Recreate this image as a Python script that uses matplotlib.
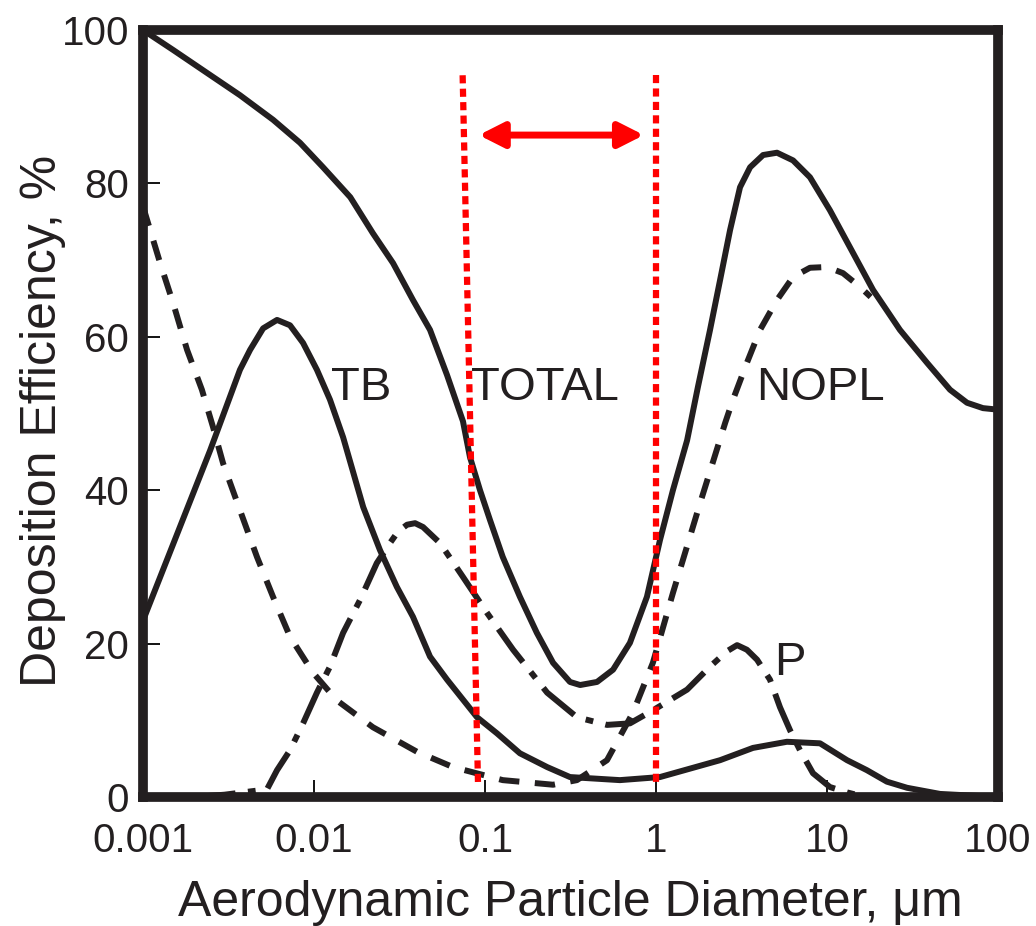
import matplotlib
matplotlib.use("Agg")
import matplotlib.pyplot as plt
from matplotlib.ticker import NullLocator

plt.rcParams['font.family'] = ['Liberation Sans', 'DejaVu Sans']

# curvas (diametro en um, eficiencia en %)
total_x = [0.001, 0.0015, 0.00237, 0.00369, 0.00576, 0.00828, 0.0113, 0.0163, 0.0221, 0.029,
           0.0379, 0.0477, 0.060, 0.0743, 0.0817, 0.0935, 0.107, 0.127, 0.160, 0.201,
           0.250, 0.314, 0.360, 0.452, 0.561, 0.704, 0.885, 1.055, 1.256, 1.52,
           1.76, 2.07, 2.37, 2.71, 3.10, 3.55, 4.23, 5.10, 6.33, 7.95,
           10.4, 13.6, 18.6, 26.7, 38.5, 52.4, 65.9, 81.7, 100]
total_y = [100, 97.4, 94.4, 91.5, 88.3, 85.3, 82.1, 78.2, 73.5, 69.6,
           64.8, 60.9, 55.0, 49.0, 44.3, 40.0, 36.1, 31.3, 26.1, 21.4,
           17.5, 15.0, 14.6, 15.0, 16.6, 20.1, 26.1, 33.5, 40.0, 46.5,
           53.5, 60.9, 67.4, 73.9, 79.5, 82.1, 83.7, 84.0, 83.0, 80.8,
           76.5, 71.7, 66.1, 60.9, 56.6, 53.1, 51.4, 50.7, 50.5]

tb_x = [0.001, 0.00247, 0.00369, 0.00423, 0.00504, 0.00608, 0.00724, 0.00863, 0.0104, 0.0124,
        0.0148, 0.0194, 0.0243, 0.0305, 0.0379, 0.0477, 0.060, 0.0898, 0.1175, 0.160,
        0.231, 0.314, 0.615, 1.055, 2.37, 3.69, 5.83, 9.1, 13.1, 17.1,
        22.4, 29.4, 45.8, 100]
tb_y = [23.0, 45.2, 55.7, 58.3, 61.1, 62.2, 61.5, 59.2, 55.7, 51.8,
        46.9, 37.8, 32.2, 27.4, 23.5, 18.3, 15.3, 10.4, 8.3, 5.7,
        3.9, 2.6, 2.2, 2.6, 4.8, 6.4, 7.2, 7.0, 4.8, 3.5,
        2.0, 1.2, 0.4, 0]

nopl_x = [0.001, 0.00126, 0.0015, 0.00181, 0.00221, 0.00257, 0.00294, 0.00369, 0.00464, 0.00576,
          0.00724, 0.00987, 0.0136, 0.0221, 0.040, 0.065, 0.127, 0.250, 0.345, 0.517,
          0.733, 0.959, 1.256, 1.81, 2.54, 2.82, 3.40, 4.06, 5.10, 6.33,
          7.95, 10.0, 12.4, 15.6, 18.0]
nopl_y = [77.0, 69.6, 64.4, 58.3, 53.1, 48.2, 43.5, 37.4, 31.3, 26.1,
          20.9, 16.2, 12.6, 9.1, 5.9, 3.9, 2.2, 1.6, 2.2, 4.8,
          11.0, 17.5, 26.6, 38.3, 48.8, 51.8, 56.6, 60.9, 64.8, 67.8,
          69.0, 69.1, 68.3, 66.5, 65.2]

p_x = [0.002, 0.003, 0.00531, 0.00608, 0.00724, 0.00863, 0.0104, 0.0124, 0.0148, 0.0186,
       0.0233, 0.0278, 0.031, 0.035, 0.039, 0.0434, 0.0546, 0.0743, 0.1028, 0.146,
       0.231, 0.345, 0.517, 0.704, 0.959, 1.52, 2.07, 2.6, 2.98, 3.4,
       3.90, 4.64, 5.31, 6.08, 6.95, 8.28, 10.4, 13.1, 16.7]
p_y = [0, 0.3, 1.0, 3.5, 6.1, 9.6, 13.6, 17.0, 21.4, 25.7,
       30.5, 33.1, 34.6, 35.5, 35.7, 35.2, 33.1, 28.7, 24.0, 19.2,
       13.6, 10.4, 9.4, 9.6, 11.3, 14.0, 17.0, 19.0, 19.8, 19.2,
       17.9, 15.3, 11.7, 8.7, 6.1, 3.1, 1.3, 0.6, 0]

# zona marcada en rojo
rojo_izq_x = [0.074, 0.091]
rojo_izq_y = [94.1, 1.8]
rojo_der_x = [1.0, 1.0]
rojo_der_y = [94.1, 1.8]
flecha_x = [0.092, 0.85]
flecha_y = 86.3

etiquetas = ['TB', 'TOTAL', 'NOPL', 'P']
etiquetas_x = [0.0188, 0.2245, 9.1, 6.08]
etiquetas_y = [51.8, 51.8, 51.8, 15.9]

xticks = [0.001, 0.01, 0.1, 1, 10, 100]
xticklabels = ['0.001', '0.01', '0.1', '1', '10', '100']
yticks = [0, 20, 40, 60, 80, 100]

negro = '#231f20'

fig = plt.figure(figsize=(10.36, 9.26), dpi=100)
ax = fig.add_axes([143 / 1036, (926 - 797) / 926, (998 - 143) / 1036, (797 - 30) / 926])

ax.plot(total_x, total_y, color=negro, lw=4.3, solid_joinstyle='round')
ax.plot(tb_x, tb_y, color=negro, lw=4.3, solid_joinstyle='round')
ax.plot(nopl_x, nopl_y, color=negro, lw=4.3, dashes=(3.4, 2.6))
ax.plot(p_x, p_y, color=negro, lw=4.3, dashes=(6.9, 2.1, 1.3, 2.1))

ax.plot(rojo_izq_x, rojo_izq_y, color='red', lw=4.5, dashes=(1.3, 0.85), zorder=4)
ax.plot(rojo_der_x, rojo_der_y, color='red', lw=4.5, dashes=(1.3, 0.85), zorder=4)
ax.annotate('', xy=(flecha_x[0], flecha_y), xytext=(flecha_x[1], flecha_y),
            arrowprops=dict(arrowstyle='<|-|>,head_length=0.75,head_width=0.38',
                            color='red', lw=5, shrinkA=0, shrinkB=0, mutation_scale=20))

for txt, tx, ty in zip(etiquetas, etiquetas_x, etiquetas_y):
    ax.text(tx, ty, txt, fontsize=34, color=negro, ha='center', va='baseline')

ax.set_xscale('log')
ax.set_xlim(1e-3, 1e2)
ax.set_ylim(0, 100)
ax.set_xticks(xticks)
ax.set_xticklabels(xticklabels)
ax.xaxis.set_minor_locator(NullLocator())
ax.set_yticks(yticks)

ax.tick_params(axis='both', direction='in', length=12, width=1.3, colors='black',
               labelcolor=negro, labelsize=29)
ax.tick_params(axis='x', pad=18)
ax.tick_params(axis='y', pad=10)

for s in ax.spines.values():
    s.set_linewidth(7)
    s.set_color(negro)
    s.set_zorder(5)

ax.set_xlabel('Aerodynamic Particle Diameter, μm', fontsize=36, color=negro)
ax.set_ylabel('Deposition Efficiency, %', fontsize=36, color=negro)
ax.xaxis.set_label_coords(0.5, -0.108)
ax.yaxis.set_label_coords(-0.09, 0.49)

fig.savefig('out.png', dpi=100)
